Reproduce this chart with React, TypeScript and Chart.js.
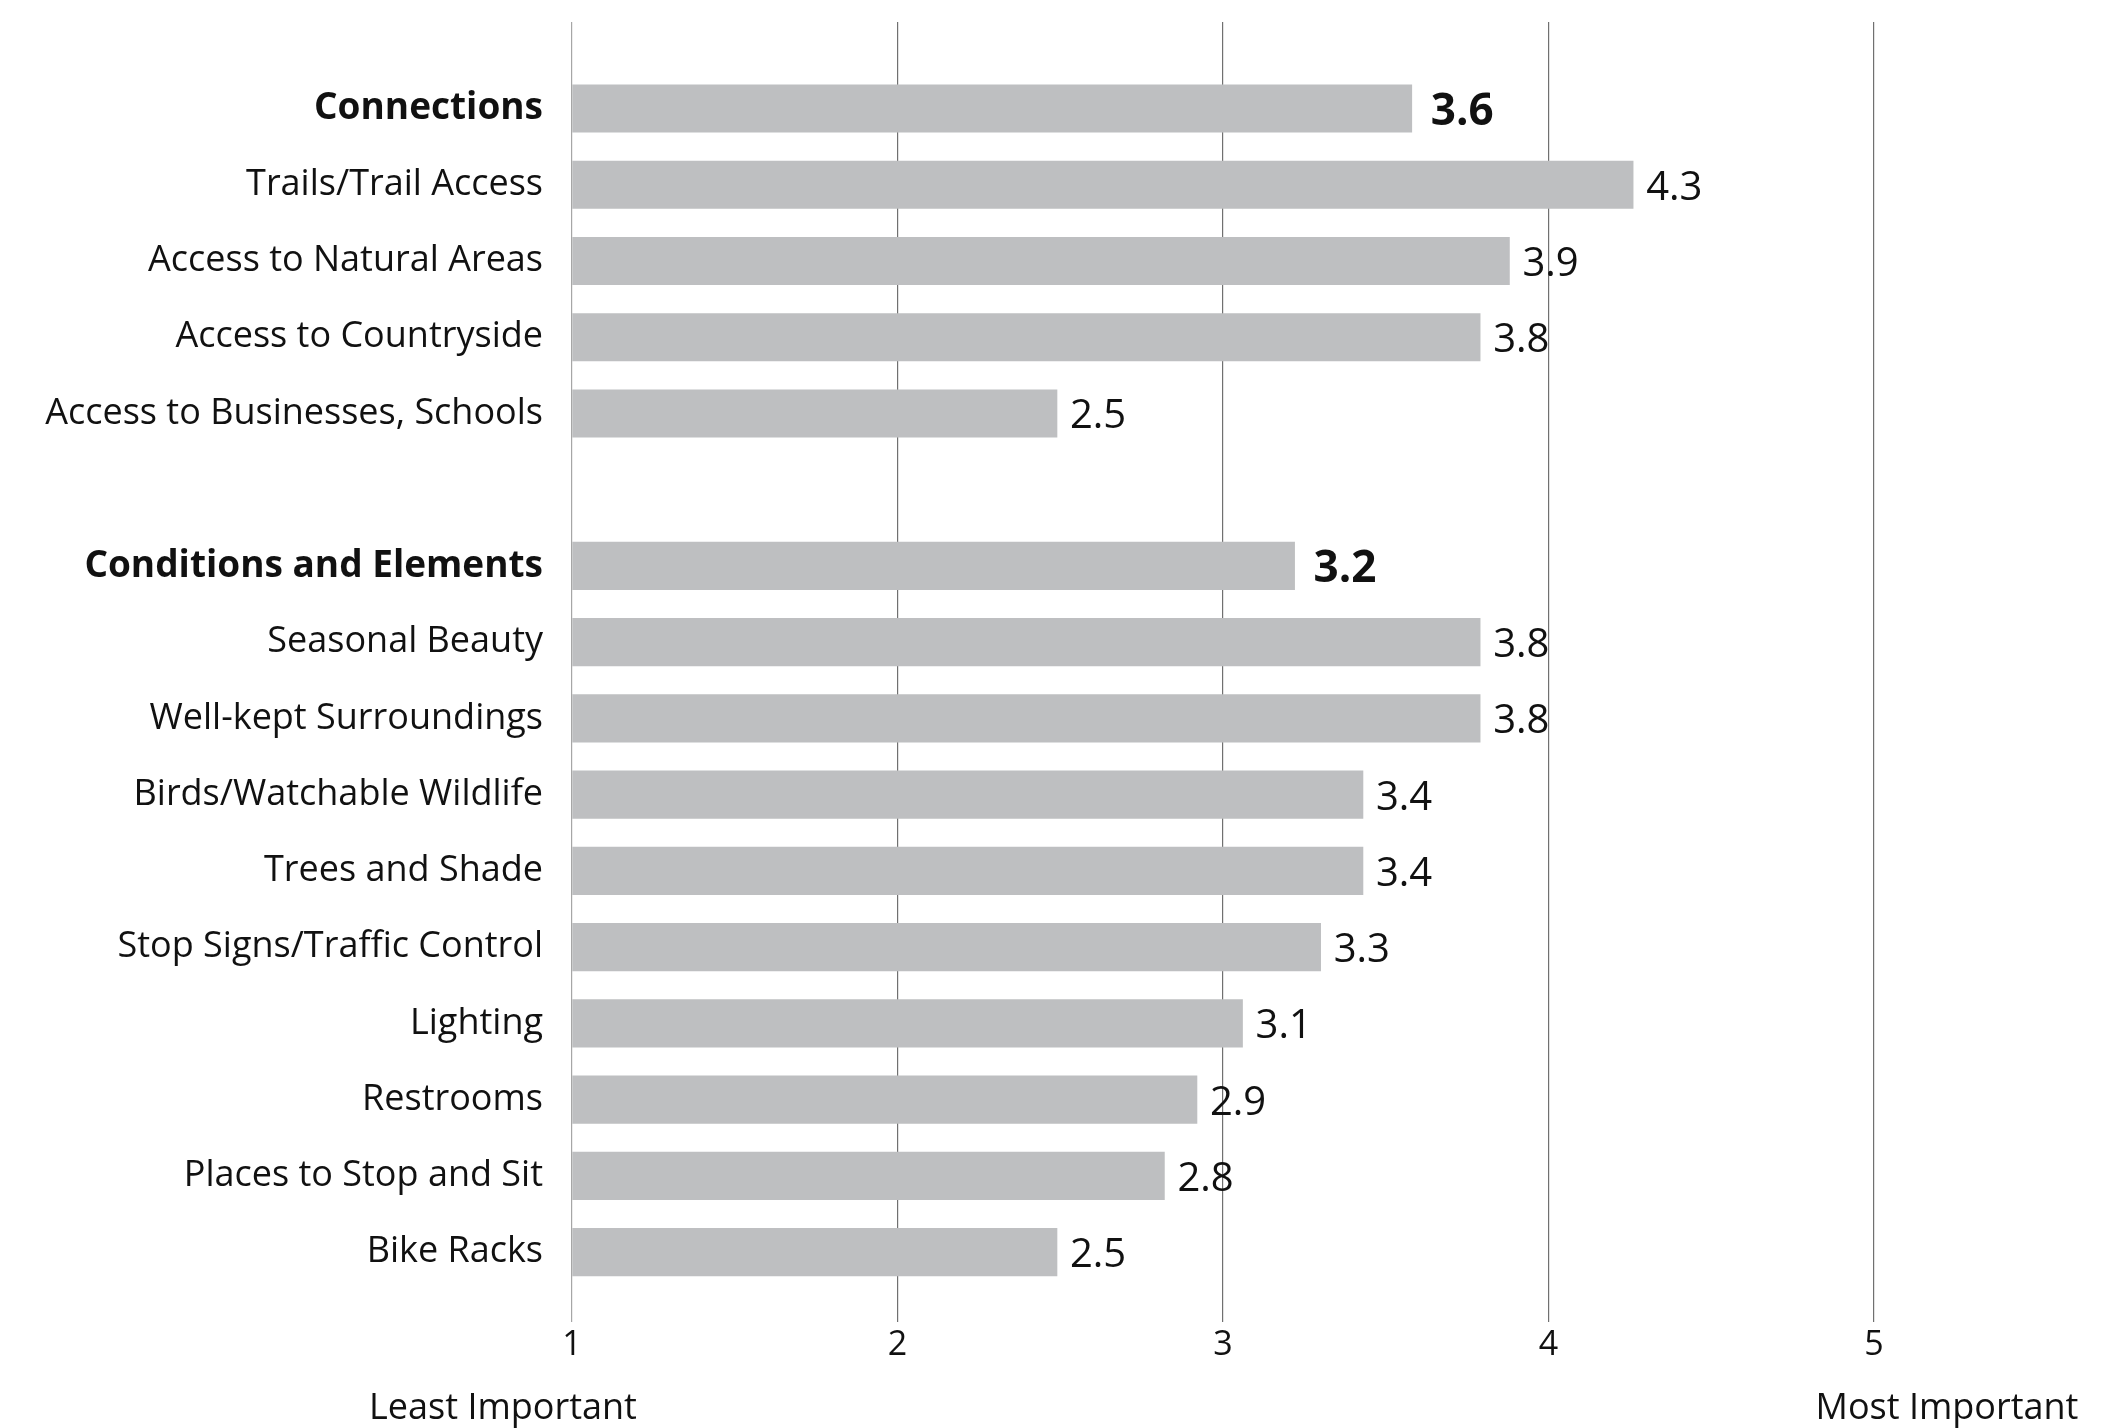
import React, { useEffect, useRef } from "react";
import { Chart, registerables } from "chart.js";

Chart.register(...registerables);

const categories: string[] = [
  "Connections",
  "Trails/Trail Access",
  "Access to Natural Areas",
  "Access to Countryside",
  "Access to Businesses, Schools",
  "",
  "Conditions and Elements",
  "Seasonal Beauty",
  "Well-kept Surroundings",
  "Birds/Watchable Wildlife",
  "Trees and Shade",
  "Stop Signs/Traffic Control",
  "Lighting",
  "Restrooms",
  "Places to Stop and Sit",
  "Bike Racks",
];

const scores: (number | null)[] = [
  3.58, 4.26, 3.88, 3.79, 2.49, null, 3.22, 3.79, 3.79, 3.43, 3.43, 3.3, 3.06, 2.92, 2.82, 2.49,
];

const headerRows: number[] = [0, 6];
const xTicks: number[] = [1, 2, 3, 4, 5];
const axisEndLabels: string[] = ["Least Important", "Most Important"];

const FONT = "'Open Sans'";

export default function App() {
  const canvasRef = useRef<HTMLCanvasElement | null>(null);

  useEffect(() => {
    document.body.style.margin = "0";
    const canvas = canvasRef.current;
    if (!canvas) return;

    const points = scores
      .map((v, i) => (v == null ? null : { x: v, y: i }))
      .filter((p) => p !== null) as { x: number; y: number }[];

    const valueLabels = {
      id: "valueLabels",
      afterDatasetsDraw(chart: any) {
        const ctx = chart.ctx;
        const meta = chart.getDatasetMeta(0);
        ctx.save();
        ctx.fillStyle = "#111111";
        ctx.textBaseline = "alphabetic";
        ctx.textAlign = "left";
        meta.data.forEach((bar: any, k: number) => {
          const p = points[k];
          const isHeader = headerRows.includes(p.y);
          ctx.font = `${isHeader ? "bold " : ""}${isHeader ? 44 : 40}px ${FONT}`;
          const gap = isHeader ? 19 : 13;
          ctx.fillText(p.x.toFixed(1), bar.x + gap, bar.y + (isHeader ? 16 : 15));
        });
        ctx.restore();
      },
    };

    const endLabels = {
      id: "endLabels",
      afterDraw(chart: any) {
        const ctx = chart.ctx;
        const xs = chart.scales.x;
        ctx.save();
        ctx.fillStyle = "#111111";
        ctx.font = `36px ${FONT}`;
        ctx.textAlign = "center";
        ctx.textBaseline = "alphabetic";
        ctx.fillText(axisEndLabels[0], xs.getPixelForValue(xTicks[0]) - 69, 1419);
        ctx.fillText(axisEndLabels[1], xs.getPixelForValue(xTicks[xTicks.length - 1]) + 73, 1419);
        ctx.restore();
      },
    };

    const chart = new Chart(canvas, {
      type: "bar",
      data: {
        datasets: [
          {
            data: points as any,
            base: 1,
            backgroundColor: "#bebfc1",
            borderWidth: 0,
            barThickness: 47.5,
          } as any,
        ],
      },
      options: {
        animation: false,
        responsive: true,
        maintainAspectRatio: false,
        indexAxis: "y",
        layout: { padding: { left: 0, right: 242, top: 22, bottom: 0 } },
        plugins: {
          legend: { display: false },
          tooltip: { enabled: false },
        },
        scales: {
          x: {
            type: "linear",
            position: "bottom",
            min: 1,
            max: 5,
            afterBuildTicks: (scale: any) => {
              scale.ticks = xTicks.map((v) => ({ value: v }));
            },
            afterFit: (scale: any) => {
              scale.height = 106;
              scale.paddingLeft = 0;
              scale.paddingRight = 0;
            },
            grid: {
              drawTicks: false,
              color: (c: any) => (c.tick && c.tick.value === 1 ? "#a6a6a6" : "#707070"),
              lineWidth: 1.2,
            },
            border: { display: false },
            ticks: {
              padding: 3,
              color: "#111111",
              font: { family: FONT, size: 34 },
              callback: (v: any) => String(v),
            },
          },
          y: {
            type: "linear",
            reverse: true,
            offset: false,
            min: -1.135,
            max: 15.917,
            afterBuildTicks: (scale: any) => {
              scale.ticks = categories.map((_, i) => ({ value: i }));
            },
            afterFit: (scale: any) => {
              scale.width = 572;
              scale.paddingTop = 0;
              scale.paddingBottom = 0;
            },
            grid: { display: false, drawTicks: false, offset: false },
            border: { display: false },
            ticks: {
              autoSkip: false,
              padding: 29,
              color: "#111111",
              font: (c: any) => {
                const bold = c.tick && headerRows.includes(c.tick.value);
                return { family: FONT, size: bold ? 37 : 36, weight: bold ? "bold" : "normal" };
              },
              callback: (v: any) => categories[Math.round(Number(v))] ?? "",
            },
          },
        },
      } as any,
      plugins: [valueLabels, endLabels],
    });

    return () => {
      chart.destroy();
    };
  }, []);

  return (
    <div style={{ width: "2116px", height: "1428px", position: "relative", background: "#ffffff" }}>
      <canvas ref={canvasRef} />
    </div>
  );
}
